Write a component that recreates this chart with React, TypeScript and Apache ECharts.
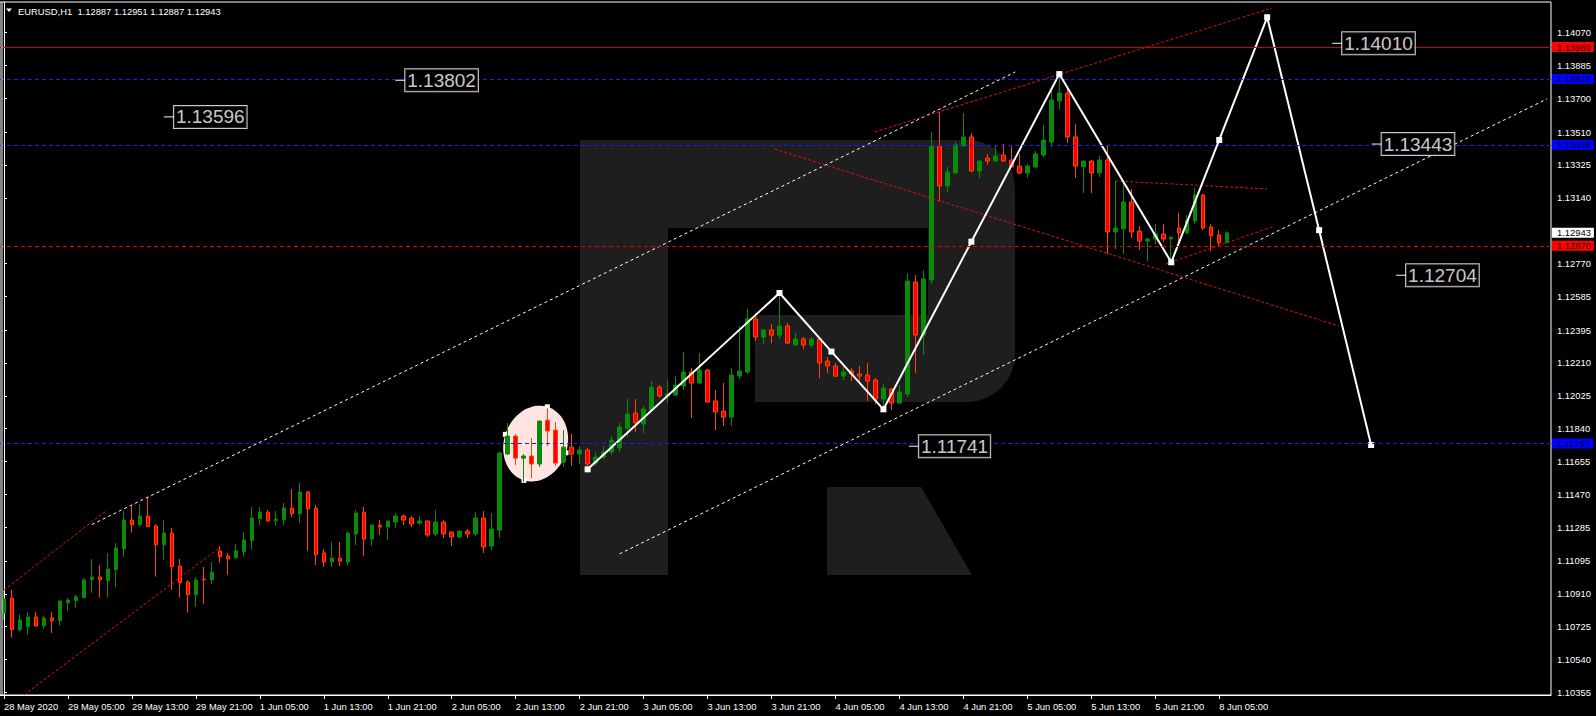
import React, { useEffect, useRef } from "react";
import * as echarts from "echarts";

// ---------- data ----------
const timeLabels = [
  "28 May 2020", "29 May 05:00", "29 May 13:00", "29 May 21:00", "1 Jun 05:00",
  "1 Jun 13:00", "1 Jun 21:00", "2 Jun 05:00", "2 Jun 13:00", "2 Jun 21:00",
  "3 Jun 05:00", "3 Jun 13:00", "3 Jun 21:00", "4 Jun 05:00", "4 Jun 13:00",
  "4 Jun 21:00", "5 Jun 05:00", "5 Jun 13:00", "5 Jun 21:00", "8 Jun 05:00",
];
const BARS_PER_LABEL = 8;
const SLOTS = 194;

// [open, close, low, high]
const candles: number[][] = [
  [1.10802, 1.10881, 1.10762, 1.10931], [1.10886, 1.10708, 1.10663, 1.10931], [1.10708, 1.10762, 1.10696, 1.10796],
  [1.10725, 1.10779, 1.1068, 1.10807], [1.10779, 1.10729, 1.10723, 1.10807], [1.1073, 1.10774, 1.10713, 1.10787],
  [1.10774, 1.10758, 1.1069, 1.10807], [1.10758, 1.10869, 1.1073, 1.10875], [1.1086, 1.10875, 1.10815, 1.10886],
  [1.10871, 1.10892, 1.10832, 1.10903], [1.10888, 1.10987, 1.10886, 1.10999], [1.10989, 1.11004, 1.10916, 1.11106],
  [1.11004, 1.10989, 1.10888, 1.11072], [1.10983, 1.11049, 1.10888, 1.1114], [1.11046, 1.11168, 1.1095, 1.11196],
  [1.11164, 1.11325, 1.11119, 1.11376], [1.11325, 1.11299, 1.11254, 1.11404], [1.11299, 1.11348, 1.11288, 1.11415],
  [1.11348, 1.11288, 1.11286, 1.11454], [1.11292, 1.11186, 1.11006, 1.11303], [1.11186, 1.11252, 1.11102, 1.11325],
  [1.11252, 1.11062, 1.10933, 1.1128], [1.11066, 1.10972, 1.10888, 1.11106], [1.10976, 1.10905, 1.10804, 1.10987],
  [1.10905, 1.10987, 1.10837, 1.11004], [1.10993, 1.10989, 1.10854, 1.11061], [1.10989, 1.11032, 1.10966, 1.11089],
  [1.11151, 1.11119, 1.11085, 1.11179], [1.11123, 1.11107, 1.11017, 1.1114], [1.11113, 1.11151, 1.11107, 1.1119],
  [1.11147, 1.11213, 1.11119, 1.11258], [1.11209, 1.11337, 1.11158, 1.11399], [1.11333, 1.1137, 1.11295, 1.11399],
  [1.1137, 1.11321, 1.11316, 1.11382], [1.11321, 1.11331, 1.11295, 1.11376], [1.11327, 1.11393, 1.11295, 1.11421],
  [1.11393, 1.11361, 1.11344, 1.115], [1.11361, 1.11483, 1.1131, 1.11534], [1.11483, 1.11389, 1.11152, 1.1149],
  [1.11393, 1.1113, 1.11072, 1.1141], [1.1114, 1.11089, 1.11061, 1.11162], [1.11089, 1.11111, 1.11061, 1.11202],
  [1.11111, 1.11094, 1.11066, 1.11202], [1.11089, 1.1125, 1.11072, 1.11263], [1.11247, 1.11365, 1.11185, 1.11382],
  [1.1137, 1.11218, 1.11123, 1.11399], [1.11218, 1.11297, 1.11179, 1.113], [1.11297, 1.11286, 1.11241, 1.11325],
  [1.11286, 1.1132, 1.11213, 1.11322], [1.11314, 1.11348, 1.1128, 1.11365], [1.11348, 1.11325, 1.11297, 1.11359],
  [1.11337, 1.11303, 1.11286, 1.11348], [1.11308, 1.1132, 1.11297, 1.11348], [1.1132, 1.11241, 1.1123, 1.11322],
  [1.11247, 1.11314, 1.11235, 1.11382], [1.11314, 1.11247, 1.11224, 1.11325], [1.11258, 1.1123, 1.11179, 1.1126],
  [1.1123, 1.11263, 1.11224, 1.11269], [1.11263, 1.11247, 1.11224, 1.11275], [1.11247, 1.11337, 1.11235, 1.1137],
  [1.11337, 1.11174, 1.1114, 1.11376], [1.11179, 1.11275, 1.11156, 1.11365], [1.11269, 1.11703, 1.11224, 1.11708],
  [1.11697, 1.11798, 1.11695, 1.11872], [1.11798, 1.11674, 1.11635, 1.1181], [1.11674, 1.11686, 1.1154, 1.11697],
  [1.11686, 1.11641, 1.11562, 1.11787], [1.11641, 1.11883, 1.11624, 1.11885], [1.11888, 1.11827, 1.11742, 1.11956],
  [1.11832, 1.11646, 1.1163, 1.11877], [1.11652, 1.11736, 1.11624, 1.11832], [1.11736, 1.11697, 1.1163, 1.1181],
  [1.11697, 1.1172, 1.11641, 1.11742], [1.1172, 1.11641, 1.11601, 1.11731], [1.11646, 1.1168, 1.1163, 1.11708],
  [1.1168, 1.11708, 1.11669, 1.11742], [1.11708, 1.11776, 1.11692, 1.11798], [1.11731, 1.11849, 1.11708, 1.11872],
  [1.11843, 1.11922, 1.11793, 1.12007], [1.11928, 1.11872, 1.11821, 1.12007], [1.11866, 1.1195, 1.11815, 1.11967],
  [1.11945, 1.12074, 1.11943, 1.12108], [1.12074, 1.12024, 1.12013, 1.12086], [1.12024, 1.12035, 1.11984, 1.12119],
  [1.12029, 1.12086, 1.12027, 1.12136], [1.1208, 1.12159, 1.12058, 1.12272], [1.12159, 1.12097, 1.119, 1.12182],
  [1.12097, 1.1217, 1.12091, 1.12266], [1.1217, 1.1199, 1.11988, 1.12176], [1.11996, 1.11934, 1.11832, 1.12058],
  [1.11939, 1.11905, 1.11855, 1.12097], [1.11905, 1.12142, 1.11855, 1.12182], [1.12136, 1.12165, 1.12119, 1.12418],
  [1.12159, 1.12458, 1.12148, 1.12514], [1.12458, 1.12356, 1.12334, 1.12491], [1.12356, 1.12396, 1.12317, 1.12398],
  [1.12396, 1.12367, 1.12322, 1.12429], [1.12367, 1.12418, 1.12345, 1.12587], [1.12418, 1.12322, 1.12317, 1.12435],
  [1.12311, 1.12345, 1.12309, 1.12379], [1.12345, 1.12311, 1.12288, 1.12356], [1.12311, 1.12345, 1.12294, 1.12356],
  [1.12345, 1.1221, 1.12125, 1.12356], [1.12221, 1.12193, 1.12153, 1.12243], [1.12193, 1.12136, 1.12131, 1.1221],
  [1.12136, 1.12159, 1.12114, 1.12187], [1.12165, 1.12148, 1.12108, 1.12182], [1.12148, 1.12136, 1.12108, 1.12193],
  [1.12142, 1.12108, 1.11996, 1.1221], [1.12114, 1.12007, 1.11979, 1.12125], [1.12007, 1.12069, 1.11956, 1.12091],
  [1.12063, 1.11984, 1.11945, 1.12069], [1.11984, 1.12046, 1.11979, 1.12086], [1.12035, 1.12671, 1.12018, 1.12716],
  [1.12666, 1.12367, 1.12153, 1.12705], [1.12367, 1.12683, 1.12255, 1.12733], [1.12677, 1.13432, 1.12655, 1.13511],
  [1.13432, 1.13207, 1.13117, 1.13623], [1.13207, 1.13286, 1.13173, 1.13314], [1.1328, 1.13438, 1.13274, 1.13454],
  [1.13432, 1.13483, 1.1343, 1.13618], [1.13483, 1.13291, 1.13286, 1.13505], [1.13291, 1.13347, 1.13252, 1.13353],
  [1.13364, 1.13347, 1.13325, 1.13387], [1.13347, 1.13376, 1.13342, 1.13432], [1.13381, 1.13347, 1.13345, 1.13443],
  [1.13353, 1.13314, 1.13312, 1.13438], [1.13319, 1.1328, 1.13274, 1.13387], [1.1328, 1.13319, 1.13252, 1.13331],
  [1.13314, 1.13387, 1.13308, 1.13404], [1.13381, 1.13466, 1.1337, 1.1355], [1.13454, 1.13691, 1.13426, 1.13747],
  [1.13685, 1.1373, 1.13635, 1.13826], [1.1373, 1.13483, 1.13449, 1.13758], [1.13483, 1.13319, 1.13252, 1.13556],
  [1.13314, 1.13347, 1.13167, 1.1335], [1.13347, 1.1328, 1.13167, 1.13353], [1.1328, 1.13353, 1.13258, 1.13376],
  [1.13353, 1.12948, 1.12824, 1.13432], [1.12948, 1.1297, 1.12852, 1.13235], [1.12965, 1.13117, 1.12824, 1.13224],
  [1.13117, 1.12948, 1.12914, 1.1319], [1.12953, 1.12897, 1.12847, 1.12981], [1.12897, 1.12908, 1.12784, 1.12914],
  [1.12908, 1.12936, 1.1288, 1.12993], [1.12936, 1.12908, 1.12891, 1.12993], [1.12908, 1.12919, 1.12773, 1.12922],
  [1.1297, 1.12942, 1.12874, 1.13055], [1.12942, 1.13015, 1.12936, 1.13043], [1.1301, 1.13156, 1.12993, 1.13196],
  [1.13156, 1.1297, 1.12959, 1.1316], [1.12976, 1.12925, 1.12841, 1.12993], [1.12931, 1.12886, 1.12869, 1.12959],
  [1.12887, 1.12943, 1.12887, 1.12951],
];

const priceTicks = [
  1.10355, 1.1054, 1.10725, 1.1091, 1.11095, 1.11285, 1.1147, 1.11655, 1.1184, 1.12025,
  1.1221, 1.12395, 1.12585, 1.1277, 1.1314, 1.13325, 1.1351, 1.137, 1.13885, 1.1407,
];
const priceMin = 1.1034;
const priceMax = 1.14243;

const redSolidLevels = [1.13989];
const blueLevels = [1.1381, 1.13438, 1.11757];
const redDashedLevels = [1.1287];
const lastPrice = 1.12943;
const headerText = "EURUSD,H1  1.12887 1.12951 1.12887 1.12943";

// forecast zigzag (bar index, price)
const zigzagBars = [73, 97, 103.5, 110, 121, 132, 146, 152, 158, 164.5, 171];
const zigzagPrices = [1.11611, 1.12604, 1.12274, 1.11949, 1.12893, 1.13837, 1.12777, 1.13466, 1.14157, 1.12958, 1.11748];

// channel lines: [[bar, price], [bar, price]]
const whiteChannels = [
  [[11, 1.113], [126.5, 1.13849]],
  [[77, 1.11135], [193, 1.13697]],
];
const redChannels = [
  [[0, 1.10931], [12.9, 1.11382]],
  [[2.5, 1.1034], [27.1, 1.11174]],
  [[108.9, 1.13511], [158.6, 1.14209]],
  [[96.4, 1.13415], [167, 1.12418]],
  [[139, 1.13235], [158, 1.1319]],
  [[145.3, 1.12767], [158.6, 1.12976]],
];

// target labels
const targetPrices = [1.13596, 1.13802, 1.1401, 1.13443, 1.12704, 1.11741];
const targetBars = [20.63, 49.56, 166.75, 171.69, 174.75, 113.81];

// highlighted ellipse (bar, price)
const ellipseCenter = [66.5, 1.11756];
const ellipseTop = [67.96, 1.11963];
const ellipseRight = [70.29, 1.11704];

const FONT = "'Liberation Sans', Arial, sans-serif";
const LOGO = "#1e1e1e";

export default function App() {
  const ref = useRef<HTMLDivElement>(null);

  useEffect(() => {
    const chart = echarts.init(ref.current!, null, { renderer: "svg" });
    const categories = Array.from({ length: SLOTS }, (_, i) =>
      i % BARS_PER_LABEL === 0 && i / BARS_PER_LABEL < timeLabels.length ? timeLabels[i / BARS_PER_LABEL] : ""
    );
    const showLabel = (i: number) => i % BARS_PER_LABEL === 0 && i / BARS_PER_LABEL < timeLabels.length;

    const levelLine = (v: number, color: string, type: any, bg: string, fg: string) => ({
      yAxis: v,
      lineStyle: { color, type, width: 1 },
      label: {
        show: true,
        position: "end",
        distance: 1,
        formatter: () => v.toFixed(5),
        backgroundColor: bg,
        color: fg,
        fontSize: 9.4,
        fontFamily: FONT,
        padding: [1, 3, 0, 5],
      },
    });

    const markData: any[] = [
      ...redSolidLevels.map((v) => levelLine(v, "#cc0000", "solid", "#ff0000", "#200000")),
      ...blueLevels.map((v) => levelLine(v, "#1a1aff", [4, 3], "#0000ff", "#000028")),
      ...redDashedLevels.map((v) => levelLine(v, "#e00000", [4, 3], "#ff0000", "#200000")),
      levelLine(lastPrice, "rgba(0,0,0,0)", "solid", "#ffffff", "#000000"),
    ];

    const segSeries = (segs: number[][][], color: string, dash: number[]) =>
      segs.map((s) => ({
        type: "line",
        xAxisIndex: 1,
        yAxisIndex: 0,
        data: s,
        symbol: "none",
        silent: true,
        z: 3,
        lineStyle: { color, width: 1, type: dash },
      }));

    const option: any = {
      animation: false,
      backgroundColor: "#000000",
      grid: {
        left: -1,
        top: 2,
        width: SLOTS * 8,
        height: 693,
        show: true,
        borderColor: "#ffffff",
        borderWidth: 1,
        backgroundColor: "transparent",
      },
      xAxis: [
        {
          type: "category",
          data: categories,
          boundaryGap: true,
          axisLine: { show: true, lineStyle: { color: "#ffffff" } },
          axisTick: {
            show: true,
            alignWithLabel: true,
            interval: (i: number) => showLabel(i),
            length: 4,
            lineStyle: { color: "#ffffff" },
          },
          axisLabel: {
            interval: (i: number) => showLabel(i),
            align: "left",
            color: "#ffffff",
            fontSize: 9.4,
            fontFamily: FONT,
            margin: 7,
          },
          splitLine: { show: false },
        },
        { type: "value", min: -0.5, max: SLOTS - 0.5, show: false },
      ],
      yAxis: [
        {
          type: "value",
          position: "right",
          min: priceMin,
          max: priceMax,
          splitLine: { show: false },
          axisLine: { show: true, lineStyle: { color: "#ffffff" } },
          axisTick: { show: true, customValues: priceTicks, length: 3, lineStyle: { color: "#ffffff" } },
          axisLabel: {
            customValues: priceTicks,
            formatter: (v: number) => v.toFixed(5),
            color: "#ffffff",
            fontSize: 9.4,
            fontFamily: FONT,
            margin: 6,
          },
        },
      ],
      graphic: [
        // watermark logo
        { type: "rect", z: -10, shape: { x: 580, y: 140, width: 435, height: 262, r: [0, 48, 48, 0] }, style: { fill: LOGO } },
        { type: "rect", z: -9, shape: { x: 668, y: 228, width: 260, height: 87 }, style: { fill: "#000000" } },
        { type: "rect", z: -9, shape: { x: 668, y: 315, width: 87, height: 87 }, style: { fill: "#000000" } },
        { type: "rect", z: -8, shape: { x: 580, y: 140, width: 88, height: 435 }, style: { fill: LOGO } },
        { type: "polygon", z: -8, shape: { points: [[827, 487], [921, 487], [972, 575], [827, 575]] }, style: { fill: LOGO } },
        // left frame edge
        { type: "line", z: 10, shape: { x1: 2, y1: 2, x2: 2, y2: 695 }, style: { stroke: "#ffffff", lineWidth: 1 } },
        // header
        { type: "polygon", z: 10, shape: { points: [[6, 8.5], [12, 8.5], [9, 12]] }, style: { fill: "#ffffff" } },
        {
          type: "text",
          z: 10,
          style: { text: headerText, x: 18, y: 11, fill: "#ffffff", font: `9.4px ${FONT}`, verticalAlign: "middle", textVerticalAlign: "middle" },
        },
      ],
      series: [
        {
          type: "custom",
          xAxisIndex: 1,
          yAxisIndex: 0,
          z: 1,
          silent: true,
          data: [ellipseCenter],
          renderItem: (params: any, api: any) => {
            const c = api.coord(ellipseCenter);
            const t = api.coord(ellipseTop);
            const r = api.coord(ellipseRight);
            const tv = [t[0] - c[0], t[1] - c[1]];
            const rv = [r[0] - c[0], r[1] - c[1]];
            const pts: number[][] = [];
            for (let k = 0; k < 96; k++) {
              const a = (2 * Math.PI * k) / 96;
              pts.push([c[0] + Math.cos(a) * rv[0] + Math.sin(a) * tv[0], c[1] + Math.cos(a) * rv[1] + Math.sin(a) * tv[1]]);
            }
            const sq = (x: number, y: number) => ({
              type: "rect",
              shape: { x: x - 2.5, y: y - 2.5, width: 5, height: 5 },
              style: { fill: "#ffffff" },
            });
            return {
              type: "group",
              children: [
                { type: "polygon", shape: { points: pts }, style: { fill: "#ffe4e1" } },
                sq(c[0] + tv[0], c[1] + tv[1]),
                sq(c[0] - tv[0], c[1] - tv[1]),
                sq(c[0] + rv[0], c[1] + rv[1]),
                sq(c[0] - rv[0], c[1] - rv[1]),
              ],
            };
          },
        },
        {
          type: "candlestick",
          xAxisIndex: 0,
          yAxisIndex: 0,
          data: candles,
          barWidth: 4,
          z: 2,
          itemStyle: {
            color: "#0a8a0a",
            color0: "#ff0000",
            borderColor: "#0a8a0a",
            borderColor0: "#ff4500",
            borderWidth: 1,
          },
          markLine: {
            silent: true,
            symbol: ["none", "none"],
            precision: 5,
            animation: false,
            data: markData,
          },
        },
        ...segSeries(whiteChannels, "#ffffff", [3, 3]),
        ...segSeries(redChannels, "#e01010", [3, 2]),
        {
          type: "line",
          xAxisIndex: 1,
          yAxisIndex: 0,
          z: 4,
          silent: true,
          data: zigzagBars.map((b, i) => [b, zigzagPrices[i]]),
          lineStyle: { color: "#ffffff", width: 2 },
          symbol: "rect",
          symbolSize: 6,
          showSymbol: true,
          itemStyle: { color: "#ffffff" },
        },
        {
          type: "scatter",
          xAxisIndex: 1,
          yAxisIndex: 0,
          z: 5,
          silent: true,
          data: targetBars.map((b, i) => [b, targetPrices[i]]),
          symbol: "rect",
          symbolSize: [10, 1.2],
          itemStyle: { color: "#ffffff" },
          label: {
            show: true,
            position: "right",
            distance: 0,
            formatter: (p: any) => p.value[1].toFixed(5),
            color: "#ffffff",
            fontSize: 19,
            fontFamily: FONT,
            backgroundColor: "#000000",
            borderColor: "#ffffff",
            borderWidth: 1,
            padding: [2, 2, 1, 2],
          },
        },
      ],
    };

    chart.setOption(option);
    return () => chart.dispose();
  }, []);

  return (
    <div
      ref={ref}
      style={{ position: "fixed", left: 0, top: 0, width: 1596, height: 716, background: "#000000" }}
    />
  );
}
